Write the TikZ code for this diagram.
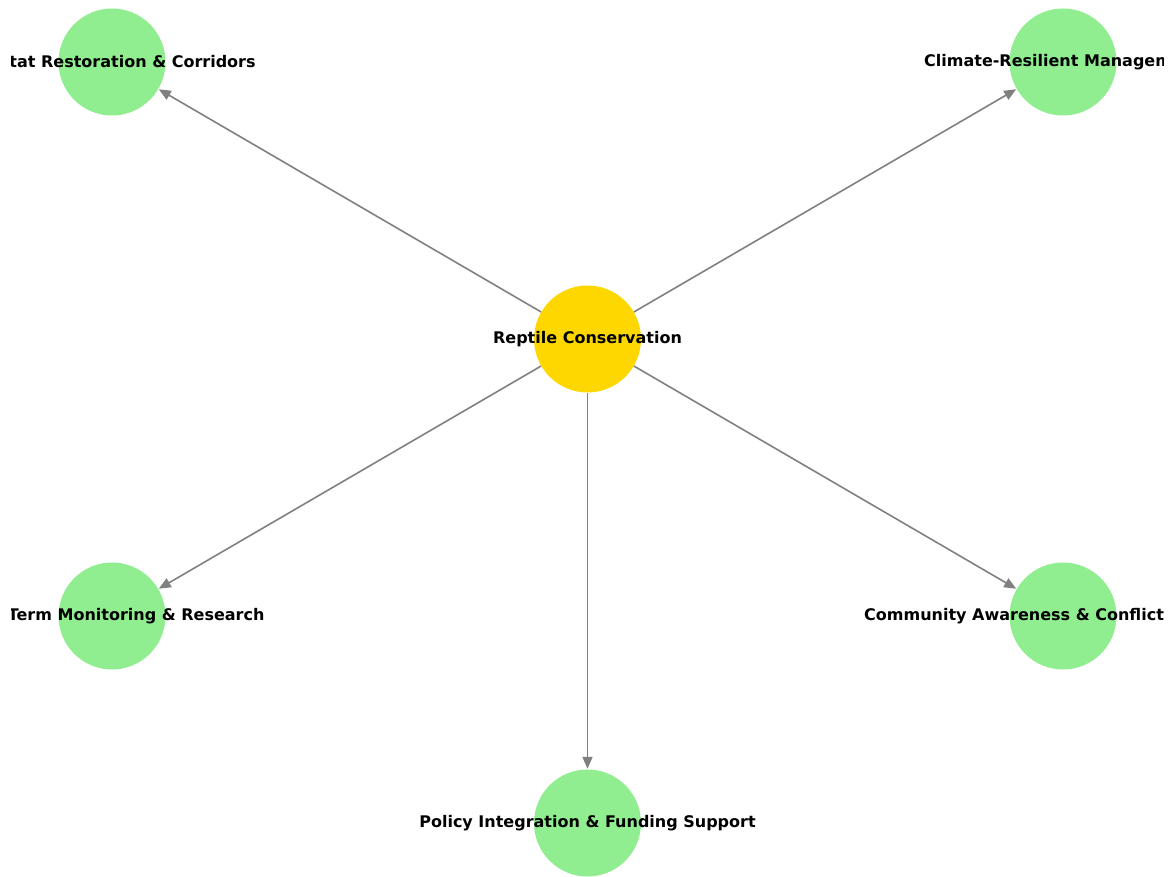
\documentclass[tikz,border=0pt]{standalone}
\usepackage{fontspec}
\setmainfont{DejaVu Sans}
\usetikzlibrary{arrows.meta}
\definecolor{hubyellow}{RGB}{255,215,0}
\definecolor{leafgreen}{RGB}{144,238,144}
\definecolor{edgegray}{RGB}{128,128,128}
\begin{document}
\begin{tikzpicture}[x=1pt,y=-1pt,
  hub/.style={circle,fill=hubyellow,minimum size=107pt,inner sep=0pt},
  leaf/.style={circle,fill=leafgreen,minimum size=107pt,inner sep=0pt},
  lbl/.style={font=\bfseries\fontsize{16}{18}\selectfont,text=black,inner sep=0pt},
  conn/.style={draw=edgegray,line width=1.6pt,-{Triangle[length=12pt,width=10pt]},shorten >=0.5pt}]
\useasboundingbox (0,0) rectangle (1172,877);
\clip (11,0) rectangle (1163,877);
\node[hub] (c) at (587.5,339) {};
\node[leaf] (tl) at (112,62) {};
\node[leaf] (tr) at (1063,62) {};
\node[leaf] (bl) at (112,616) {};
\node[leaf] (br) at (1063,616) {};
\node[leaf] (b) at (587.5,823) {};
\draw[conn] (c) -- (tl);
\draw[conn] (c) -- (tr);
\draw[conn] (c) -- (bl);
\draw[conn] (c) -- (br);
\draw[conn] (c) -- (b);
\node[lbl] (tcl) at (c) {Reptile Conservation};
\node[lbl] (ttl) at (tl) {Habitat Restoration \& Corridors};
\node[lbl] (ttr) at (tr) {Climate-Resilient Management};
\node[lbl] (tbl) at (bl) {Long-Term Monitoring \& Research};
\node[lbl] (tbr) at (br) {Community Awareness \& Conflict Mitigation};
\node[lbl] (tb) at (b) {Policy Integration \& Funding Support};
\end{tikzpicture}
\end{document}
